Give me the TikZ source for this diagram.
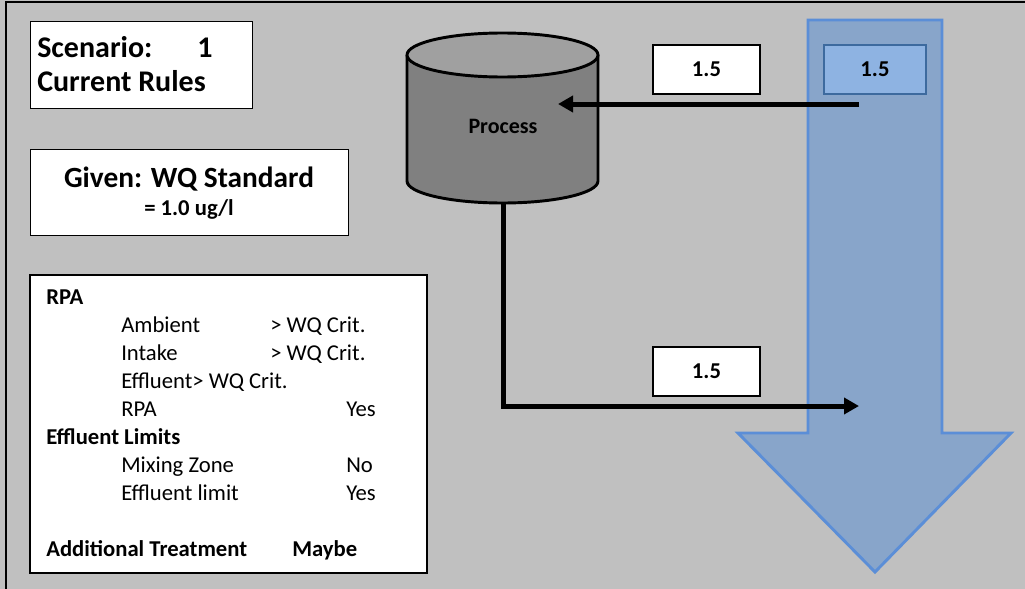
\documentclass[tikz,border=0pt]{standalone}
\usepackage{fontspec}
\setmainfont{Carlito}
\usetikzlibrary{arrows.meta}
\definecolor{bg}{HTML}{C0C0C0}
\definecolor{arrowfill}{HTML}{88A5CA}
\definecolor{arrowline}{HTML}{5B8ED7}
\definecolor{bluebox}{HTML}{8EB3E2}
\definecolor{blueboxline}{HTML}{3D6A9E}
\definecolor{cyltop}{HTML}{A0A0A0}
\definecolor{cylbody}{HTML}{808080}
\tikzset{
  whitebox/.style={draw=black, fill=white, line width=1.1pt, inner sep=0pt, anchor=north west},
  numbox/.style={draw=black, fill=white, line width=1pt, inner sep=0pt, minimum width=80.25pt, minimum height=36.75pt, font=\fontsize{17}{20}\selectfont\bfseries},
  bignum/.style={numbox, fill=bluebox, draw=blueboxline, minimum width=76.5pt},
  titletext/.style={inner sep=0pt, anchor=base west, font=\fontsize{22.5}{26}\selectfont\bfseries},
  bodytext/.style={inner sep=0pt, anchor=base west, font=\fontsize{17}{20}\selectfont},
  boldtext/.style={bodytext, font=\fontsize{17}{20}\selectfont\bfseries},
  flow/.style={line width=3.75pt, -{Triangle[length=11.25pt,width=12pt]}},
}
\begin{document}
\begin{tikzpicture}[x=0.75pt,y=-0.75pt]
\useasboundingbox (0,0) rectangle (1025,589);
\clip (0,0) rectangle (1025,589);
\fill[bg] (0,0) rectangle (1025,589);
\draw[line width=1.1pt] (6,600) -- (6,2) -- (1040,2);

% big blue arrow
\draw[arrowline, fill=arrowfill, line width=2.2pt, line join=miter]
  (808,20) -- (942,20) -- (942,433) -- (1011,433) -- (875,572) -- (738,433) -- (808,433) -- cycle;

% scenario box
\node[whitebox, minimum width=166.5pt, minimum height=65.25pt] (scen) at (30,21) {};
\node[titletext] (scenA) at (37,57) {Scenario:};
\node[titletext] (scenN) at (197,57) {1};
\node[titletext] (scenB) at (37,91) {Current Rules};

% given box
\node[whitebox, minimum width=238.5pt, minimum height=64.5pt] (given) at (30,149) {};
\node[titletext, anchor=base, font=\fontsize{22}{26}\selectfont\bfseries] (givenA) at (189,187) {Given: WQ Standard};
\node[inner sep=0pt, anchor=base, font=\fontsize{17}{20}\selectfont\bfseries] (givenB) at (189,215) {= 1.0 ug/l};

% RPA box
\node[whitebox, line width=1.5pt, minimum width=297.75pt, minimum height=223.5pt] (rpa) at (29,274) {};
\node[boldtext] (t1) at (46,304) {RPA};
\node[bodytext] (t2) at (121,332) {Ambient};
\node[bodytext] (t2b) at (270,332) {> WQ Crit.};
\node[bodytext] (t3) at (121,360) {Intake};
\node[bodytext] (t3b) at (270,360) {> WQ Crit.};
\node[bodytext] (t4) at (121,388) {Effluent> WQ Crit.};
\node[bodytext] (t5) at (121,416) {RPA};
\node[bodytext] (t5b) at (346,416) {Yes};
\node[boldtext] (t6) at (46,444) {Effluent Limits};
\node[bodytext] (t7) at (121,472) {Mixing Zone};
\node[bodytext] (t7b) at (346,472) {No};
\node[bodytext] (t8) at (121,500) {Effluent limit};
\node[bodytext] (t8b) at (346,500) {Yes};
\node[boldtext] (t9) at (46,556) {Additional Treatment};
\node[boldtext] (t9b) at (292,556) {Maybe};

% cylinder
\fill[cylbody] (407,55) -- (407,181) arc[start angle=180, end angle=0, x radius=95.5, y radius=22] -- (598,55) -- cycle;
\draw[line width=2.2pt] (407,55) -- (407,181) arc[start angle=180, end angle=0, x radius=95.5, y radius=22] -- (598,55);
\draw[line width=2.2pt, fill=cyltop] (502.5,55) ellipse[x radius=95.5, y radius=22];
\node[inner sep=0pt, font=\fontsize{16.5}{19}\selectfont\bfseries] (proc) at (503,126) {Process};
\coordinate (cylB) at (503,203);

% value boxes
\node[numbox] (v1) at (706.5,69.5) {1.5};
\node[bignum] (v2) at (875,69.5) {1.5};
\node[numbox] (v3) at (706.5,371.5) {1.5};

% flows
\coordinate (inR) at (859,104);
\coordinate (inL) at (558,104);
\coordinate (outE) at (859,406);
\draw[flow] (inR) -- (inL);
\draw[flow] (cylB) |- (outE);
\end{tikzpicture}
\end{document}
